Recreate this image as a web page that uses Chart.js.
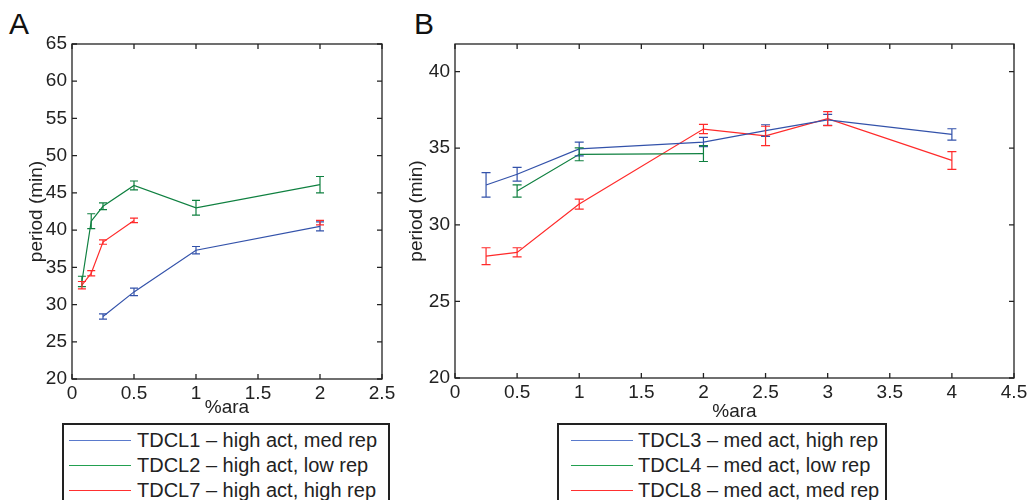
<!DOCTYPE html>
<html>
<head>
<meta charset="utf-8">
<script src="https://cdn.jsdelivr.net/npm/chart.js@4/dist/chart.umd.min.js"></script>
<style>
  body { margin: 0; background: #fff; width: 1033px; height: 500px; overflow: hidden; position: relative;
         font-family: "Liberation Sans", Arial, sans-serif; color: #222; }
  .panel { position: absolute; top: 0; }
  .letter { position: absolute; font-size: 30px; line-height: 30px; color: #111; }
  .legend { position: absolute; top: 424px; height: 95px; border: 1px solid #222; outline: 0.5px solid #222; box-sizing: border-box; background: #fff; }
  .row { position: absolute; left: 0; height: 25px; line-height: 25px; font-size: 20px; white-space: nowrap; }
  .row .ln { position: absolute; top: 12px; height: 1px; }
  .row .tx { position: absolute; top: 0; }
</style>
</head>
<body>
<div class="letter" style="left:9px;top:9px">A</div>
<div class="letter" style="left:414px;top:9px">B</div>
<div class="panel" style="left:0;width:400px;height:420px"><canvas id="chartA" width="400" height="420"></canvas></div>
<div class="panel" style="left:400px;width:633px;height:425px"><canvas id="chartB" width="633" height="425"></canvas></div>
<div class="legend" id="legendA" style="left:63px;width:326px"></div>
<div class="legend" id="legendB" style="left:558px;width:328px"></div>

<script>
// Panel A
const araA1 = [0.25, 0.5, 1, 2];
const perA1 = [28.4, 31.7, 37.3, 40.5];
const errA1 = [0.35, 0.5, 0.5, 0.6];
const araA2 = [0.08, 0.155, 0.25, 0.5, 1, 2];
const perA2 = [33.1, 41.2, 43.2, 46.0, 43.0, 46.1];
const errA2 = [0.7, 1.0, 0.45, 0.6, 1.0, 1.1];
const araA7 = [0.08, 0.155, 0.25, 0.5, 1, 2];
const perA7 = [32.6, 34.2, 38.4, 41.3, null, 41.0];
const errA7 = [0.5, 0.35, 0.3, 0.3, null, 0.3];
const labelsA = ['TDCL1 \u2013 high act, med rep', 'TDCL2 \u2013 high act, low rep', 'TDCL7 \u2013 high act, high rep'];

// Panel B
const araB3 = [0.25, 0.5, 1, 2, 2.5, 3, 4];
const perB3 = [32.6, 33.3, 34.95, 35.4, 36.15, 36.85, 35.9];
const errB3 = [0.8, 0.45, 0.45, 0.3, 0.38, 0.36, 0.37];
const araB4 = [0.5, 1, 2];
const perB4 = [32.2, 34.6, 34.65];
const errB4 = [0.4, 0.42, 0.52];
const araB8 = [0.25, 0.5, 1, 2, 2.5, 3, 4];
const perB8 = [27.95, 28.2, 31.35, 36.25, 35.8, 36.93, 34.2];
const errB8 = [0.55, 0.3, 0.33, 0.3, 0.63, 0.46, 0.58];
const labelsB = ['TDCL3 \u2013 med act, high rep', 'TDCL4 \u2013 med act, low rep', 'TDCL8 \u2013 med act, med rep'];

const BLUE = '#3352aa', GREEN = '#0f8040', RED = '#ff2a2a';
const legendLine = ['#5a7acc', '#22a050', '#ff3030'];
const FONT = { family: '"Liberation Sans", Arial, sans-serif', size: 19 };

function series(xs, ys, errs, label, color) {
    return {
        label: label,
        data: xs.map((x, i) => ({ x: x, y: ys[i] })),
        err: errs,
        borderColor: color,
        borderWidth: 1.2,
        pointRadius: 0,
        spanGaps: false,
        tension: 0
    };
}

// error bars + matlab-style box with inward ticks
const matlabAxes = {
    id: 'matlabAxes',
    afterDatasetsDraw(chart, args, opts) {
        const { ctx, chartArea: a, scales: { x, y } } = chart;
        const cap = opts.cap || 4;
        ctx.save();
        chart.data.datasets.forEach(ds => {
            ctx.strokeStyle = ds.borderColor;
            ctx.lineWidth = 1.2;
            ds.data.forEach((p, j) => {
                if (p.y == null) return;
                const px = x.getPixelForValue(p.x);
                const t = y.getPixelForValue(p.y + ds.err[j]);
                const b = y.getPixelForValue(p.y - ds.err[j]);
                ctx.beginPath();
                ctx.moveTo(px, t); ctx.lineTo(px, b);
                ctx.moveTo(px - cap, t); ctx.lineTo(px + cap, t);
                ctx.moveTo(px - cap, b); ctx.lineTo(px + cap, b);
                ctx.stroke();
            });
        });
        ctx.strokeStyle = '#222';
        ctx.lineWidth = 1.3;
        ctx.strokeRect(a.left, a.top, a.width, a.height);
        ctx.beginPath();
        x.ticks.forEach(tk => {
            const px = x.getPixelForValue(tk.value);
            ctx.moveTo(px, a.bottom); ctx.lineTo(px, a.bottom - 5);
            ctx.moveTo(px, a.top); ctx.lineTo(px, a.top + 5);
        });
        y.ticks.forEach(tk => {
            const py = y.getPixelForValue(tk.value);
            ctx.moveTo(a.left, py); ctx.lineTo(a.left + 5, py);
            ctx.moveTo(a.right, py); ctx.lineTo(a.right - 5, py);
        });
        ctx.stroke();
        ctx.restore();
    }
};

function makeChart(id, datasets, cfg) {
    return new Chart(document.getElementById(id), {
        type: 'line',
        data: { datasets: datasets },
        plugins: [matlabAxes],
        options: {
            responsive: false,
            animation: false,
            devicePixelRatio: 1,
            layout: { padding: { left: 0, top: 44, right: cfg.padRight, bottom: 0 } },
            plugins: {
                legend: { display: false },
                tooltip: { enabled: false },
                matlabAxes: { cap: cfg.cap }
            },
            scales: {
                x: {
                    type: 'linear', min: 0, max: cfg.xMax,
                    grid: { display: false, drawTicks: false },
                    border: { display: false },
                    ticks: { stepSize: 0.5, padding: 3, color: '#222', font: FONT, maxRotation: 0,
                             callback: v => String(v) },
                    title: { display: true, text: '%ara', color: '#222', font: FONT, padding: { top: 0, bottom: cfg.xTitlePad } },
                    afterFit: s => { s.height = cfg.xHeight; }
                },
                y: {
                    type: 'linear', min: 20, max: cfg.yMax,
                    grid: { display: false, drawTicks: false },
                    border: { display: false },
                    ticks: { stepSize: 5, padding: 5, color: '#222', font: FONT, callback: v => String(v) },
                    afterBuildTicks: s => { s.ticks = s.ticks.filter(t => t.value % 5 === 0); },
                    title: { display: true, text: 'period (min)', color: '#222', font: FONT, padding: { top: cfg.yTitlePad, bottom: 0 } },
                    afterFit: s => { s.width = cfg.yWidth; }
                }
            }
        }
    });
}

makeChart('chartA', [
    series(araA1, perA1, errA1, labelsA[0], BLUE),
    series(araA2, perA2, errA2, labelsA[1], GREEN),
    series(araA7, perA7, errA7, labelsA[2], RED)
], { xMax: 2.5, yMax: 65, padRight: 18, yWidth: 72, xHeight: 41, xTitlePad: 1, yTitlePad: 25, cap: 4 });

makeChart('chartB', [
    series(araB3, perB3, errB3, labelsB[0], BLUE),
    series(araB4, perB4, errB4, labelsB[1], GREEN),
    series(araB8, perB8, errB8, labelsB[2], RED)
], { xMax: 4.5, yMax: 41.8, padRight: 19, yWidth: 55, xHeight: 47, xTitlePad: 2, yTitlePad: 5, cap: 4.5 });

function buildLegend(id, labels, lineLeft, lineWidth, textLeft) {
    const box = document.getElementById(id);
    labels.forEach((txt, i) => {
        const row = document.createElement('div');
        row.className = 'row';
        row.style.top = (3 + i * 25) + 'px';
        const ln = document.createElement('span');
        ln.className = 'ln';
        ln.style.left = lineLeft + 'px';
        ln.style.width = lineWidth + 'px';
        ln.style.backgroundColor = legendLine[i];
        const tx = document.createElement('span');
        tx.className = 'tx';
        tx.style.left = textLeft + 'px';
        tx.textContent = txt;
        row.appendChild(ln);
        row.appendChild(tx);
        box.appendChild(row);
    });
}
buildLegend('legendA', labelsA, 5, 62, 73);
buildLegend('legendB', labelsB, 12, 62, 79);
</script>
</body>
</html>
